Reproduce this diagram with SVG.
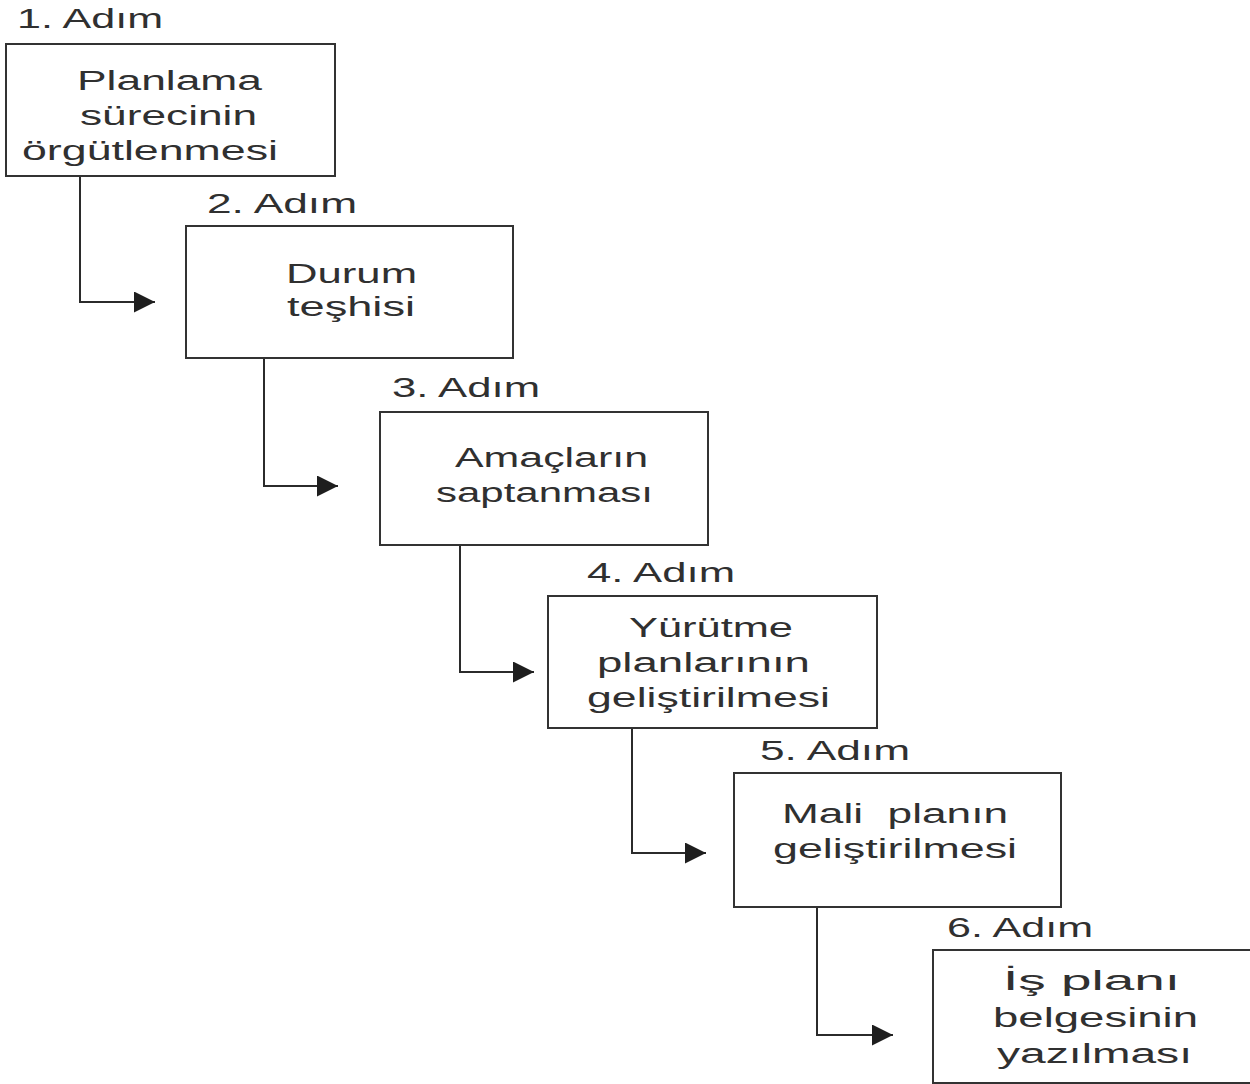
<svg xmlns="http://www.w3.org/2000/svg" width="1250" height="1084" viewBox="0 0 1250 1084">
<style>
.box{fill:#fff;stroke:#333;stroke-width:2}
.conn{fill:none;stroke:#2b2b2b;stroke-width:2}
text{font-family:"Liberation Sans",Arial,sans-serif;font-size:27px;fill:#303030}
</style>
<defs>
<marker id="arr" viewBox="0 0 20 20" refX="20" refY="10" markerWidth="21" markerHeight="21" markerUnits="userSpaceOnUse" orient="auto">
<path d="M0 0 L20 10 L0 20 Z" fill="#1e1e1e"/>
</marker>
</defs>
<rect width="1250" height="1084" fill="#fff"/>
<g id="connectors">
<path class="conn" d="M80 176 V302 H155" marker-end="url(#arr)"/>
<path class="conn" d="M264 358 V486 H338" marker-end="url(#arr)"/>
<path class="conn" d="M460 545 V672 H534" marker-end="url(#arr)"/>
<path class="conn" d="M632 728 V853 H706" marker-end="url(#arr)"/>
<path class="conn" d="M817 907 V1035 H893" marker-end="url(#arr)"/>
</g>
<g id="step1">
<text x="17" y="28" textLength="146" lengthAdjust="spacingAndGlyphs">1. Adım</text>
<rect class="box" x="6" y="44" width="329" height="132"/>
<text x="77" y="90" textLength="185" lengthAdjust="spacingAndGlyphs">Planlama</text>
<text x="80" y="125" textLength="177" lengthAdjust="spacingAndGlyphs">sürecinin</text>
<text x="22" y="160" textLength="256" lengthAdjust="spacingAndGlyphs">örgütlenmesi</text>
</g>
<g id="step2">
<text x="207" y="213" textLength="150" lengthAdjust="spacingAndGlyphs">2. Adım</text>
<rect class="box" x="186" y="226" width="327" height="132"/>
<text x="286" y="283" textLength="131" lengthAdjust="spacingAndGlyphs">Durum</text>
<text x="287" y="316" textLength="128" lengthAdjust="spacingAndGlyphs">teşhisi</text>
</g>
<g id="step3">
<text x="392" y="397" textLength="148" lengthAdjust="spacingAndGlyphs">3. Adım</text>
<rect class="box" x="380" y="412" width="328" height="133"/>
<text x="455" y="467" textLength="193" lengthAdjust="spacingAndGlyphs">Amaçların</text>
<text x="436" y="502" textLength="217" lengthAdjust="spacingAndGlyphs">saptanması</text>
</g>
<g id="step4">
<text x="587" y="582" textLength="148" lengthAdjust="spacingAndGlyphs">4. Adım</text>
<rect class="box" x="548" y="596" width="329" height="132"/>
<text x="629" y="637" textLength="164" lengthAdjust="spacingAndGlyphs">Yürütme</text>
<text x="597" y="672" textLength="213" lengthAdjust="spacingAndGlyphs">planlarının</text>
<text x="587" y="707" textLength="243" lengthAdjust="spacingAndGlyphs">geliştirilmesi</text>
</g>
<g id="step5">
<text x="760" y="760" textLength="150" lengthAdjust="spacingAndGlyphs">5. Adım</text>
<rect class="box" x="734" y="773" width="327" height="134"/>
<text x="782" y="823" textLength="226" lengthAdjust="spacingAndGlyphs" xml:space="preserve">Mali  planın</text>
<text x="773" y="858" textLength="244" lengthAdjust="spacingAndGlyphs">geliştirilmesi</text>
</g>
<g id="step6">
<text x="947" y="937" textLength="146" lengthAdjust="spacingAndGlyphs">6. Adım</text>
<rect class="box" x="933" y="950" width="330" height="133"/>
<text x="1003" y="990" textLength="177" lengthAdjust="spacingAndGlyphs">İş planı</text>
<text x="993" y="1027" textLength="205" lengthAdjust="spacingAndGlyphs">belgesinin</text>
<text x="997" y="1063" textLength="195" lengthAdjust="spacingAndGlyphs">yazılması</text>
</g>
</svg>
